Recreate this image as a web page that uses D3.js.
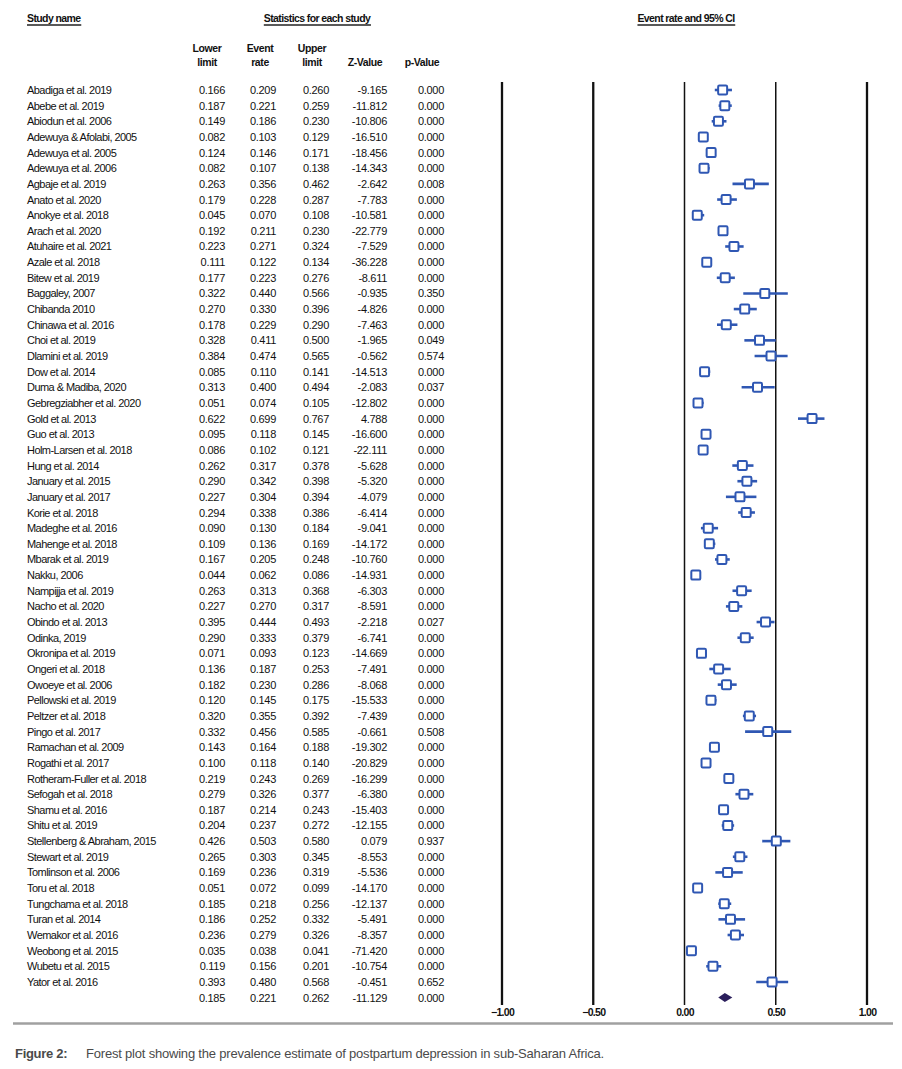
<!DOCTYPE html>
<html>
<head>
<meta charset="utf-8">
<script src="https://cdn.jsdelivr.net/npm/d3@7"></script>
<style>
  body { margin: 0; background: #fff; }
  svg text { font-family: "Liberation Sans", Arial, sans-serif; }
</style>
</head>
<body>
<div id="chart"></div>
<script>
// study data
var studies = ["Abadiga et al. 2019", "Abebe et al. 2019", "Abiodun et al. 2006", "Adewuya & Afolabi, 2005",
  "Adewuya et al. 2005", "Adewuya et al. 2006", "Agbaje et al. 2019", "Anato et al. 2020", "Anokye et al. 2018",
  "Arach et al. 2020", "Atuhaire et al. 2021", "Azale et al. 2018", "Bitew et al. 2019", "Baggaley, 2007",
  "Chibanda 2010", "Chinawa et al. 2016", "Choi et al. 2019", "Dlamini et al. 2019", "Dow et al. 2014",
  "Duma & Madiba, 2020", "Gebregziabher et al. 2020", "Gold et al. 2013", "Guo et al. 2013",
  "Holm-Larsen et al. 2018", "Hung et al. 2014", "January et al. 2015", "January et al. 2017", "Korie et al. 2018",
  "Madeghe et al. 2016", "Mahenge et al. 2018", "Mbarak et al.  2019", "Nakku, 2006", "Nampijja et al. 2019",
  "Nacho et al. 2020", "Obindo et al. 2013", "Odinka, 2019", "Okronipa et al. 2019", "Ongeri et al. 2018",
  "Owoeye et al. 2006", "Pellowski et al. 2019", "Peltzer et al. 2018", "Pingo et al. 2017", "Ramachan et al. 2009",
  "Rogathi et al. 2017", "Rotheram-Fuller et al. 2018", "Sefogah et al. 2018", "Shamu et al. 2016", "Shitu et al. 2019",
  "Stellenberg & Abraham, 2015", "Stewart et al. 2019", "Tomlinson et al. 2006", "Toru et al. 2018",
  "Tungchama et al. 2018", "Turan et al. 2014", "Wemakor et al. 2016", "Weobong et al. 2015", "Wubetu et al. 2015",
  "Yator et al. 2016"];

var lower = [0.166, 0.187, 0.149, 0.082, 0.124, 0.082, 0.263, 0.179, 0.045, 0.192, 0.223, 0.111, 0.177, 0.322,
  0.270, 0.178, 0.328, 0.384, 0.085, 0.313, 0.051, 0.622, 0.095, 0.086, 0.262, 0.290, 0.227, 0.294, 0.090, 0.109,
  0.167, 0.044, 0.263, 0.227, 0.395, 0.290, 0.071, 0.136, 0.182, 0.120, 0.320, 0.332, 0.143, 0.100, 0.219, 0.279,
  0.187, 0.204, 0.426, 0.265, 0.169, 0.051, 0.185, 0.186, 0.236, 0.035, 0.119, 0.393];

var rate = [0.209, 0.221, 0.186, 0.103, 0.146, 0.107, 0.356, 0.228, 0.070, 0.211, 0.271, 0.122, 0.223, 0.440,
  0.330, 0.229, 0.411, 0.474, 0.110, 0.400, 0.074, 0.699, 0.118, 0.102, 0.317, 0.342, 0.304, 0.338, 0.130, 0.136,
  0.205, 0.062, 0.313, 0.270, 0.444, 0.333, 0.093, 0.187, 0.230, 0.145, 0.355, 0.456, 0.164, 0.118, 0.243, 0.326,
  0.214, 0.237, 0.503, 0.303, 0.236, 0.072, 0.218, 0.252, 0.279, 0.038, 0.156, 0.480];

var upper = [0.260, 0.259, 0.230, 0.129, 0.171, 0.138, 0.462, 0.287, 0.108, 0.230, 0.324, 0.134, 0.276, 0.566,
  0.396, 0.290, 0.500, 0.565, 0.141, 0.494, 0.105, 0.767, 0.145, 0.121, 0.378, 0.398, 0.394, 0.386, 0.184, 0.169,
  0.248, 0.086, 0.368, 0.317, 0.493, 0.379, 0.123, 0.253, 0.286, 0.175, 0.392, 0.585, 0.188, 0.140, 0.269, 0.377,
  0.243, 0.272, 0.580, 0.345, 0.319, 0.099, 0.256, 0.332, 0.326, 0.041, 0.201, 0.568];

var zValue = [-9.165, -11.812, -10.806, -16.510, -18.456, -14.343, -2.642, -7.783, -10.581, -22.779, -7.529,
  -36.228, -8.611, -0.935, -4.826, -7.463, -1.965, -0.562, -14.513, -2.083, -12.802, 4.788, -16.600, -22.111,
  -5.628, -5.320, -4.079, -6.414, -9.041, -14.172, -10.760, -14.931, -6.303, -8.591, -2.218, -6.741, -14.669,
  -7.491, -8.068, -15.533, -7.439, -0.661, -19.302, -20.829, -16.299, -6.380, -15.403, -12.155, 0.079, -8.553,
  -5.536, -14.170, -12.137, -5.491, -8.357, -71.420, -10.754, -0.451];

var pValue = [0.000, 0.000, 0.000, 0.000, 0.000, 0.000, 0.008, 0.000, 0.000, 0.000, 0.000, 0.000, 0.000, 0.350,
  0.000, 0.000, 0.049, 0.574, 0.000, 0.037, 0.000, 0.000, 0.000, 0.000, 0.000, 0.000, 0.000, 0.000, 0.000, 0.000,
  0.000, 0.000, 0.000, 0.000, 0.027, 0.000, 0.000, 0.000, 0.000, 0.000, 0.000, 0.508, 0.000, 0.000, 0.000, 0.000,
  0.000, 0.000, 0.937, 0.000, 0.000, 0.000, 0.000, 0.000, 0.000, 0.000, 0.000, 0.652];

// pooled estimate
var pooled = {lower: 0.185, rate: 0.221, upper: 0.262, z: -11.129, p: 0.000};

var axisTicks = [-1, -0.5, 0, 0.5, 1];

var W = 902, H = 1069;

var svg = d3.select("#chart").append("svg")
  .attr("width", W)
  .attr("height", H);

var n = studies.length;
var yScale = d3.scaleLinear().domain([0, n]).range([90, 997.6]);
var xScale = d3.scaleLinear().domain([-1, 1]).range([502, 867]);
var f3 = d3.format(".3f");

// --- headers
function underlined(txt, x, y, anchor) {
  var t = svg.append("text")
    .attr("x", x).attr("y", y)
    .attr("text-anchor", anchor)
    .attr("font-size", 10.5).attr("font-weight", "bold")
    .attr("letter-spacing", "-0.6px")
    .attr("fill", "#111")
    .text(txt);
  var bb = t.node().getBBox();
  svg.append("line")
    .attr("x1", bb.x).attr("x2", bb.x + bb.width)
    .attr("y1", y + 3).attr("y2", y + 3)
    .attr("stroke", "#222").attr("stroke-width", 1.3);
}
underlined("Study name", 27, 22, "start");
underlined("Statistics for each study", 317, 22, "middle");
underlined("Event rate and 95% CI", 686, 22, "middle");

var cols = [
  {key: lower, x: 225, h: ["Lower", "limit"], hx: 207},
  {key: rate, x: 276, h: ["Event", "rate"], hx: 260},
  {key: upper, x: 329, h: ["Upper", "limit"], hx: 312},
  {key: zValue, x: 387, h: ["", "Z-Value"], hx: 365},
  {key: pValue, x: 444, h: ["", "p-Value"], hx: 422}
];

cols.forEach(function(c) {
  c.h.forEach(function(line, k) {
    svg.append("text")
      .attr("x", c.hx).attr("y", 52 + k * 14)
      .attr("text-anchor", "middle")
      .attr("font-size", 10.5).attr("font-weight", "bold")
      .attr("letter-spacing", "-0.4px")
      .attr("fill", "#111")
      .text(line);
  });
});

// --- table rows
var rows = svg.append("g").attr("class", "rows");

rows.selectAll(".name")
  .data(studies)
  .enter().append("text")
  .attr("class", "name")
  .attr("x", 27)
  .attr("y", function(d, i) { return yScale(i) + 4; })
  .attr("font-size", 11)
  .attr("letter-spacing", "-0.55px")
  .attr("fill", "#111")
  .text(function(d) { return d; });

cols.forEach(function(c, ci) {
  var vals = c.key.slice();
  vals.push([pooled.lower, pooled.rate, pooled.upper, pooled.z, pooled.p][ci]);
  rows.selectAll(".col" + ci)
    .data(vals)
    .enter().append("text")
    .attr("class", "col" + ci)
    .attr("x", c.x)
    .attr("y", function(d, i) { return yScale(i) + 4; })
    .attr("text-anchor", "end")
    .attr("font-size", 11)
    .attr("letter-spacing", "-0.3px")
    .attr("fill", "#111")
    .text(function(d) { return (d < 0 ? "-" : "") + f3(Math.abs(d)); });
});

// --- plot
var plot = svg.append("g").attr("class", "plot");

plot.selectAll(".vline")
  .data(axisTicks)
  .enter().append("line")
  .attr("class", "vline")
  .attr("x1", function(d) { return xScale(d); })
  .attr("x2", function(d) { return xScale(d); })
  .attr("y1", 82).attr("y2", 1005)
  .attr("stroke", "#111")
  .attr("stroke-width", function(d) { return (d === 0 || d === 0.5) ? 1.5 : 2.3; });

plot.append("g")
  .attr("transform", "translate(0,1006)")
  .call(d3.axisBottom(xScale).tickValues(axisTicks).tickFormat(d3.format(".2f")).tickSize(0))
  .call(function(g) {
    g.select(".domain").remove();
    g.selectAll("text")
      .attr("font-size", 10.5).attr("font-weight", "bold")
      .attr("letter-spacing", "-0.7px")
      .attr("fill", "#111")
      .attr("font-family", "'Liberation Sans', Arial, sans-serif");
  });

var blue = "#2f57b3";

plot.selectAll(".ci")
  .data(studies)
  .enter().append("line")
  .attr("class", "ci")
  .attr("x1", function(d, i) { return xScale(lower[i]); })
  .attr("x2", function(d, i) { return xScale(upper[i]); })
  .attr("y1", function(d, i) { return yScale(i); })
  .attr("y2", function(d, i) { return yScale(i); })
  .attr("stroke", blue)
  .attr("stroke-width", 2.6);

var sq = 9;
plot.selectAll(".pt")
  .data(studies)
  .enter().append("rect")
  .attr("class", "pt")
  .attr("x", function(d, i) { return xScale(rate[i]) - sq / 2; })
  .attr("y", function(d, i) { return yScale(i) - sq / 2; })
  .attr("width", sq).attr("height", sq)
  .attr("rx", 1.2)
  .attr("fill", "#fff")
  .attr("stroke", blue)
  .attr("stroke-width", 2);

// pooled diamond
var yp = yScale(n);
plot.append("path")
  .attr("d", d3.line()([
    [xScale(pooled.lower), yp],
    [xScale(pooled.rate), yp - 4.5],
    [xScale(pooled.upper), yp],
    [xScale(pooled.rate), yp + 4.5]
  ]) + "Z")
  .attr("fill", "#2b1f5c");

// --- bottom rule and caption
svg.append("line")
  .attr("x1", 13).attr("x2", 893)
  .attr("y1", 1023.5).attr("y2", 1023.5)
  .attr("stroke", "#a0a0a0").attr("stroke-width", 2.5);

svg.append("text")
  .attr("x", 15).attr("y", 1058)
  .attr("font-size", 13).attr("font-weight", "bold")
  .attr("fill", "#4a4a4a")
  .attr("letter-spacing", "-0.3px")
  .text("Figure 2:");

svg.append("text")
  .attr("x", 86).attr("y", 1058)
  .attr("font-size", 13)
  .attr("fill", "#4a4a4a")
  .attr("letter-spacing", "-0.2px")
  .text("Forest plot showing the prevalence estimate of postpartum depression in sub-Saharan Africa.");
</script>
</body>
</html>
